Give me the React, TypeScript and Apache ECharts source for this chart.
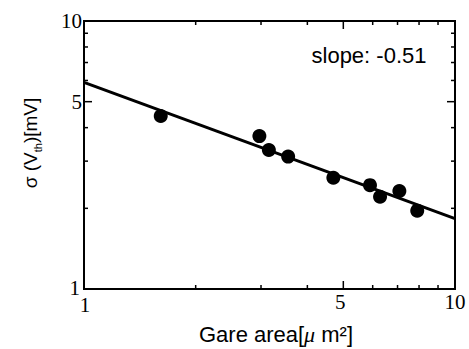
import React, { useEffect, useRef } from "react";
import * as echarts from "echarts";

const gateArea = [1.61, 2.97, 3.15, 3.55, 4.7, 5.9, 6.28, 7.08, 7.91];
const sigmaVth = [4.42, 3.72, 3.3, 3.12, 2.6, 2.44, 2.21, 2.32, 1.96];
const fitX = [1, 10];
const fitY = [5.9, 1.83];
const tickValues = [1, 2, 3, 4, 5, 6, 7, 8, 9, 10];
const labeledTicks = [1, 5, 10];
const slopeLabel = "slope: -0.51";
const xTitle = "Gare area[{mu|μ} m²]";
const yTitle = "{a|σ (V}{s|th}{a|)[mV]}";

const SERIF = '"Liberation Serif", "Times New Roman", serif';
const SANS = '"Liberation Sans", Arial, sans-serif';

export default function App() {
  const ref = useRef<HTMLDivElement>(null);
  useEffect(() => {
    const chart = echarts.init(ref.current!, null, { renderer: "svg" });
    const gridL = 84, gridT = 21, gridR = 14, gridB = 60;
    chart.setOption({
      animation: false,
      backgroundColor: "#fff",
      grid: {
        left: gridL, top: gridT, right: gridR, bottom: gridB,
        show: true, borderColor: "#000", borderWidth: 2, backgroundColor: "transparent",
      },
      xAxis: {
        type: "log", logBase: 10, min: 1, max: 10,
        axisLine: { show: false }, axisTick: { show: false },
        axisLabel: { show: false }, splitLine: { show: false },
      },
      yAxis: {
        type: "log", logBase: 10, min: 1, max: 10,
        axisLine: { show: false }, axisTick: { show: false },
        axisLabel: { show: false }, splitLine: { show: false },
      },
      series: [
        {
          type: "line",
          data: fitX.map((x, i) => [x, fitY[i]]),
          showSymbol: false,
          lineStyle: { color: "#000", width: 3 },
          z: 2,
        },
        {
          type: "scatter",
          data: gateArea.map((x, i) => [x, sigmaVth[i]]),
          symbolSize: 14,
          itemStyle: { color: "#000", opacity: 1 },
          z: 3,
        },
      ],
    });

    const graphics: any[] = [];
    const [xLeft, yBottom] = chart.convertToPixel({ gridIndex: 0 }, [1, 1]) as number[];
    const [xRight, yTop] = chart.convertToPixel({ gridIndex: 0 }, [10, 10]) as number[];
    const tickStyle = { stroke: "#000", lineWidth: 1.5 };
    for (const v of tickValues) {
      const major = labeledTicks.includes(v);
      const len = major ? 8 : 4;
      const px = (chart.convertToPixel({ gridIndex: 0 }, [v, 1]) as number[])[0];
      const py = (chart.convertToPixel({ gridIndex: 0 }, [1, v]) as number[])[1];
      if (v !== 1 && v !== 10) {
        graphics.push({ type: "line", shape: { x1: px, y1: yBottom, x2: px, y2: yBottom - len }, style: tickStyle });
        graphics.push({ type: "line", shape: { x1: px, y1: yTop, x2: px, y2: yTop + len }, style: tickStyle });
        graphics.push({ type: "line", shape: { x1: xLeft, y1: py, x2: xLeft + len, y2: py }, style: tickStyle });
        graphics.push({ type: "line", shape: { x1: xRight, y1: py, x2: xRight - len, y2: py }, style: tickStyle });
      }
      if (major) {
        graphics.push({
          type: "text", x: v === 1 ? px + 1 : px - (v === 5 ? 3 : 0), y: yBottom + (v === 1 ? 5 : 2),
          style: { text: String(v), fontFamily: SERIF, fontSize: 21, fill: "#000", align: "center", verticalAlign: "top" },
        });
        graphics.push({
          type: "text", x: xLeft - (v === 1 ? 4 : 2), y: v === 1 ? py - 1 : py,
          style: { text: String(v), fontFamily: SERIF, fontSize: 21, fill: "#000", align: "right", verticalAlign: "middle" },
        });
      }
    }
    graphics.push({
      type: "text", x: 369, y: 55,
      style: { text: slopeLabel, fontFamily: SANS, fontSize: 22, fill: "#000", align: "center", verticalAlign: "middle" },
    });
    graphics.push({
      type: "text", x: 276, y: 334,
      style: {
        text: xTitle, fontFamily: SANS, fontSize: 22, fill: "#000", align: "center", verticalAlign: "middle",
        rich: { mu: { fontFamily: SERIF, fontStyle: "italic", fontSize: 22 } },
      },
    });
    graphics.push({
      type: "text", x: 30, y: 143, rotation: Math.PI / 2,
      style: {
        text: yTitle, fill: "#000", align: "center", verticalAlign: "middle",
        rich: {
          a: { fontFamily: SANS, fontSize: 19, lineHeight: 26 },
          s: { fontFamily: SANS, fontSize: 11, lineHeight: 26, verticalAlign: "bottom" },
        },
      },
    });
    chart.setOption({ graphic: graphics });
    return () => chart.dispose();
  }, []);
  return <div ref={ref} style={{ position: "fixed", left: 0, top: 0, width: 469, height: 349 }} />;
}
